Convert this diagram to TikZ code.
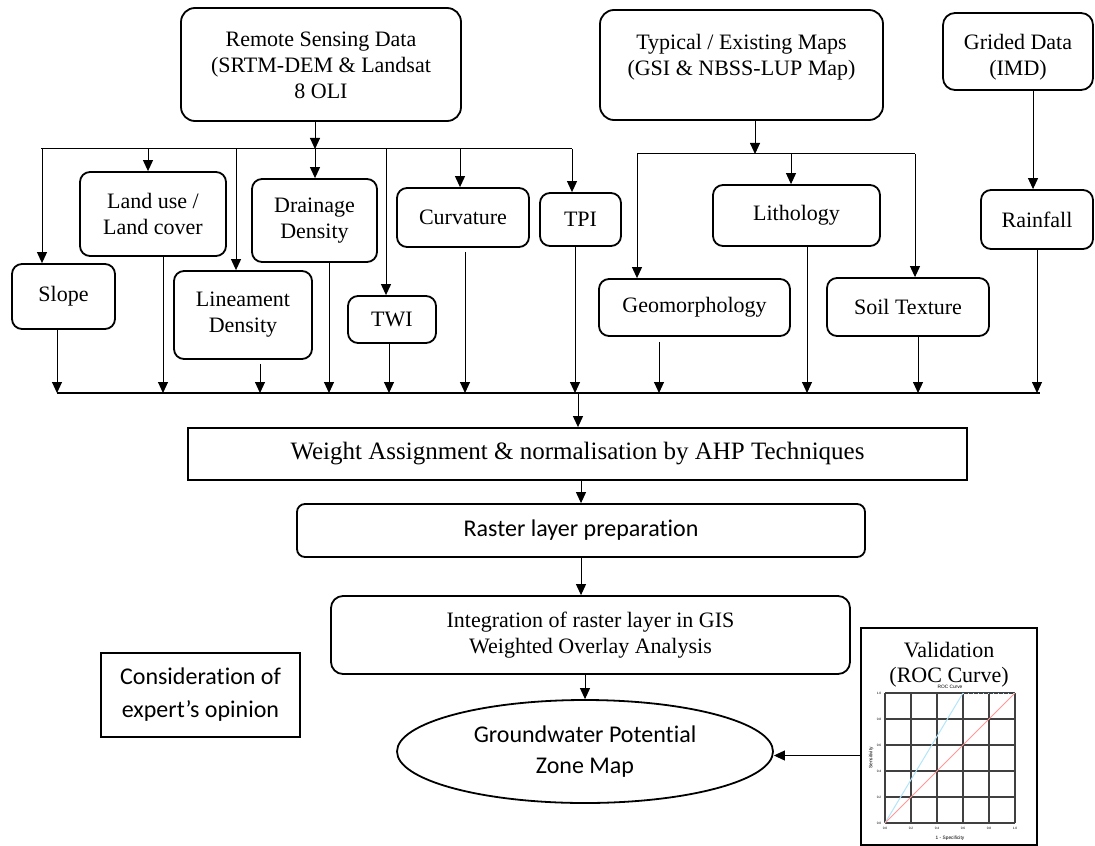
\documentclass[tikz,border=0pt]{standalone}
\usepackage{fontspec}
\setmainfont{Liberation Serif}
\newfontfamily\calibrifont[Ligatures=NoCommon]{Carlito}
\newfontfamily\chartfont{Liberation Sans}
\usetikzlibrary{arrows.meta}
\usetikzlibrary{shapes.geometric}
\usetikzlibrary{calc}

\begin{document}
\begin{tikzpicture}[x=0.5pt, y=-0.5pt,
    box/.style={draw, line width=0.9pt, rounded corners=5pt, align=center, inner sep=0pt,
                font=\fontsize{11}{13}\selectfont},
    sqbox/.style={draw, line width=0.9pt, align=center, inner sep=0pt,
                font=\fontsize{11}{13}\selectfont},
    arr/.style={line width=0.5pt, -{Triangle[length=5.5pt,width=5pt]}},
    link/.style={line width=0.5pt},
    tick/.style={font=\chartfont\fontsize{1.6}{2}\selectfont, inner sep=0pt}]
			\useasboundingbox (0,0) rectangle (1095,845);

			% Define the data sources
			\node[box, rounded corners=7pt, minimum width=140pt, minimum height=56.5pt] (rs) at (321,64.5)
				{\raisebox{-1.5pt}[\height][\depth]{\begin{tabular}{@{}c@{}}Remote Sensing Data\\(SRTM-DEM \& Landsat\\8 OLI\end{tabular}}};
			\node[box, rounded corners=7pt, minimum width=141.5pt, minimum height=55pt] (typ) at (741.5,65)
				{\raisebox{3.75pt}[\height][\depth]{\begin{tabular}{@{}c@{}}Typical / Existing Maps\\(GSI \& NBSS-LUP Map)\end{tabular}}};
			\node[box, rounded corners=6pt, minimum width=75pt, minimum height=38.5pt] (grd) at (1018,51.5)
				{\raisebox{-3pt}[\height][\depth]{\begin{tabular}{@{}c@{}}Grided Data\\(IMD)\end{tabular}}};

			% Define the thematic layers
			\node[box, minimum width=51.5pt, minimum height=32.5pt] (slope) at (63.5,296.5) {Slope};
			\node[box, minimum width=73pt, minimum height=42pt] (land) at (153,214) {Land use /\\Land cover};
			\node[box, minimum width=69pt, minimum height=44pt] (lin) at (243,315) {Lineament\\Density};
			\node[box, minimum width=62.5pt, minimum height=41.5pt] (drain) at (314.5,220.5) {Drainage\\Density};
			\node[box, minimum width=44pt, minimum height=23.5pt] (twi) at (392,319.5) {TWI};
			\node[box, minimum width=66pt, minimum height=29.5pt] (curv) at (463,217.5) {Curvature};
			\node[box, minimum width=40.5pt, minimum height=26.5pt] (tpi) at (580.5,219.5) {TPI};
			\node[box, minimum width=95.5pt, minimum height=28.5pt] (geo) at (694.5,307.5) {Geomorphology};
			\node[box, minimum width=83.5pt, minimum height=30.5pt] (lith) at (796.5,215.5) {Lithology};
			\node[box, minimum width=81pt, minimum height=29pt] (soil) at (908,307) {Soil Texture};
			\node[box, minimum width=56pt, minimum height=29.5pt] (rain) at (1037,219.5) {Rainfall};

			% Define the processing steps
			\node[sqbox, minimum width=389.5pt, minimum height=26pt, font=\fontsize{12.5}{14}\selectfont] (wt) at (577.5,454)
				{Weight Assignment \& normalisation by AHP Techniques};
			\node[box, rounded corners=4pt, minimum width=284pt, minimum height=26.5pt,
				font=\calibrifont\fontsize{12}{14}\selectfont] (ras) at (581,530.5) {Raster layer preparation};
			\node[box, rounded corners=6pt, minimum width=259.5pt, minimum height=39pt] (integ) at (590.5,635)
				{Integration of raster layer in GIS\\Weighted Overlay Analysis};
			\node[draw, ellipse, line width=0.9pt, inner sep=0pt, align=center, minimum width=188pt, minimum height=51.5pt,
				font=\calibrifont\fontsize{12}{15.5}\selectfont] (gw) at (585,751.5) {Groundwater Potential\\Zone Map};
			\node[sqbox, minimum width=99.5pt, minimum height=42pt, font=\calibrifont\fontsize{12}{16.5}\selectfont] (cons)
				at (200.5,695) {Consideration of\\expert’s opinion};
			\node[sqbox, minimum width=88pt, minimum height=108.5pt,
				label={[name=valtxt, anchor=north, align=center, yshift=-4pt, font=\fontsize{11}{12.5}\selectfont]north:Validation\\(ROC Curve)}]
				(val) at (949,736.5) {};

			% Define the bus points
			\coordinate (rsbus) at (315,149);
			\coordinate (rsL) at (41,149);
			\coordinate (rsR) at (572,149);
			\coordinate (tmbus) at (755,154);
			\coordinate (tmL) at (637,154);
			\coordinate (tmR) at (915,154);
			\coordinate (colL) at (57,393);
			\coordinate (colR) at (1040,393);
			\coordinate (colM) at (578,393);

			% Draw the lines
			\draw[link] (rsL) -- (rsR);
			\draw[arr] (rsbus |- rs.south) -- (rsbus);
			\foreach \xa/\nd in {42/slope, 148/land, 236/lin, 315/drain, 386/twi, 460/curv, 572/tpi}
			\draw[arr] (rsL -| \xa,0) -- (\nd.north -| \xa,0);

			\draw[link] (tmL) -- (tmR);
			\draw[arr] (tmbus |- typ.south) -- (tmbus);
			\foreach \xa/\nd in {637/geo, 791/lith, 915/soil}
			\draw[arr] (tmL -| \xa,0) -- (\nd.north -| \xa,0);

			\draw[arr] (grd.south -| 1033,0) -- (rain.north -| 1033,0);

			\foreach \xa/\nd/\gap in {57/slope/0, 163/land/0, 260/lin/2, 329/drain/0, 389/twi/0, 465/curv/2,
				575/tpi/0, 659/geo/2.5, 807/lith/0, 918/soil/0, 1037/rain/0}
			\draw[arr, shorten <=\gap pt] (\nd.south -| \xa,0) -- (colL -| \xa,0);
			\draw[line width=0.9pt] (colL) -- (colR);

			\draw[arr] (colM) -- (wt.north -| colM);
			\draw[arr] (ras.north |- wt.south) -- (ras.north);
			\draw[arr] (ras.south) -- (ras.south |- integ.north);
			\draw[arr] (gw.north |- integ.south) -- (gw.north);
			\draw[arr] ([yshift=-2pt]gw.east -| val.west) -- ([yshift=-2pt]gw.east);

			% ROC chart in the validation box
			\foreach \i in {0,...,5} {
				\draw[black!75, line width=0.75pt] (885+26*\i,693) -- (885+26*\i,823);
				\draw[black!75, line width=0.75pt] (885,693+26*\i) -- (1015,693+26*\i);
			}
			\draw[cyan!30, line width=0.5pt] (885,823) -- (963,693);
			\draw[cyan!30, line width=0.5pt, dotted] (963,693) -- (1015,693);
			\draw[red!40, line width=0.5pt] (885,823) -- (1015,693);
			\foreach \v [count=\k from 0] in {0.0,0.2,0.4,0.6,0.8,1.0} {
				\node[tick] (xt\k) at (885+26*\k,828) {\v};
				\node[tick] (yt\k) at (879,823-26*\k) {\v};
			}
			\node[font=\chartfont\fontsize{2.4}{3}\selectfont] (roct) at (950,687) {ROC Curve};
			\node[font=\chartfont\fontsize{2.4}{3}\selectfont] (rocx) at (950,838) {1 - Specificity};
			\node[font=\chartfont\fontsize{2.4}{3}\selectfont, rotate=90] (rocy) at (871,758) {Sensitivity};
\end{tikzpicture}
\end{document}
